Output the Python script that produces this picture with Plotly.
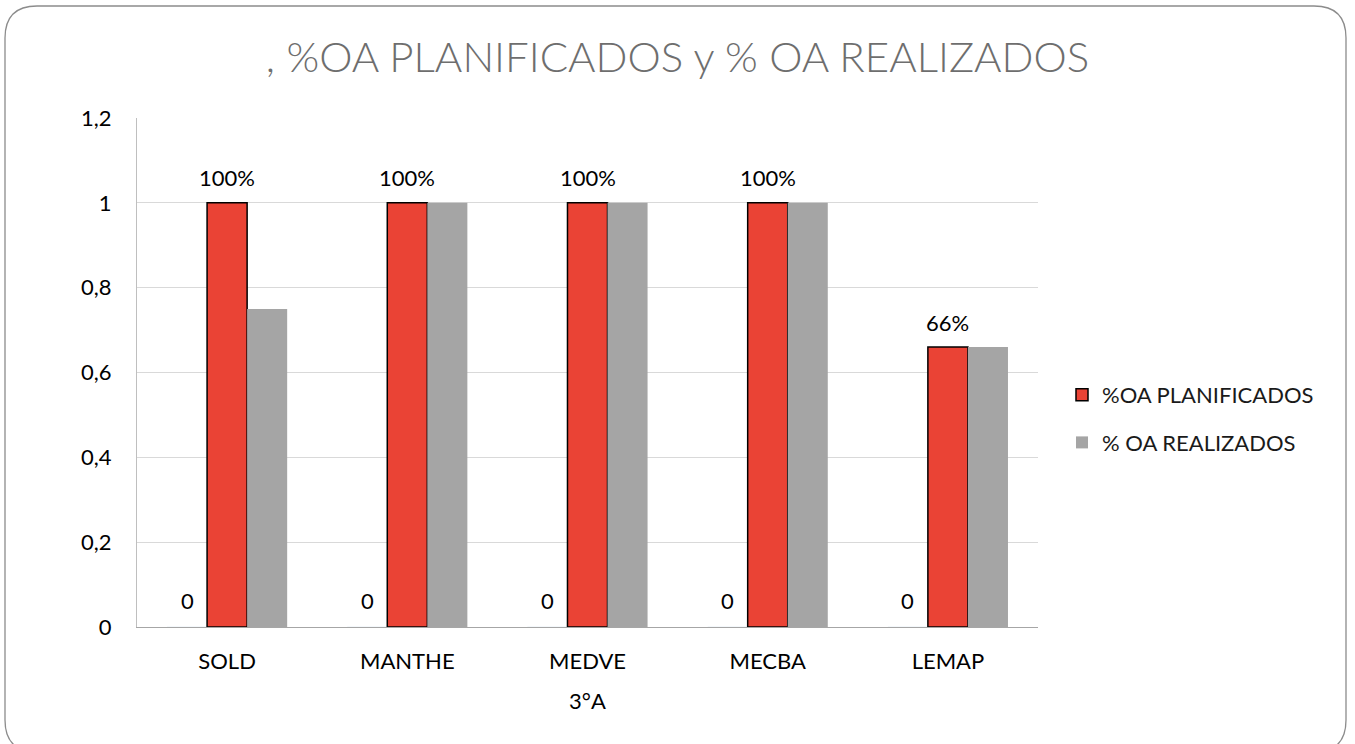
import plotly.graph_objects as go

categories = ["SOLD", "MANTHE", "MEDVE", "MECBA", "LEMAP"]
zero_series = [0, 0, 0, 0, 0]
planificados = [1, 1, 1, 1, 0.66]
realizados = [0.75, 1, 1, 1, 0.66]
y_ticks = [0, 0.2, 0.4, 0.6, 0.8, 1.0, 1.2]

FONT = "Lato, 'Open Sans', sans-serif"
W, H = 1355, 744
L, R, T, B = 137, 1038, 118, 627
BARGAP = 1 / 3
N_SERIES = 3

fig = go.Figure()
fig.add_trace(go.Bar(
    x=categories, y=zero_series, name="Serie 1", showlegend=False,
    marker=dict(color="rgba(0,0,0,0)"),
    hoverinfo="skip", legendgroup="g0",
))
fig.add_trace(go.Bar(
    x=categories, y=planificados, name="%OA PLANIFICADOS",
    marker=dict(color="#EA4335", line=dict(color="#000000", width=1.5)),
    legendgroup="g1",
))
fig.add_trace(go.Bar(
    x=categories, y=realizados, name="% OA REALIZADOS",
    marker=dict(color="#A5A5A5", line=dict(width=0)),
    legendgroup="g2",
))

# data labels, placed through the axes at each bar's value
bar_w = (R - L) / len(categories) * (1 - BARGAP) / N_SERIES
annotations = []
for cat, z in zip(categories, zero_series):
    annotations.append(dict(x=cat, y=z, xref="x", yref="y", text=f"{z}",
                            showarrow=False, xshift=-bar_w, yshift=27,
                            yanchor="middle",
                            font=dict(family=FONT, size=22, color="#000000")))
for cat, v in zip(categories, planificados):
    annotations.append(dict(x=cat, y=v, xref="x", yref="y",
                            text=f"{round(v * 100)}%",
                            showarrow=False, yshift=25, yanchor="middle",
                            font=dict(family=FONT, size=22, color="#000000")))


def px(x):
    return (x - L) / (R - L)


def py(y):
    return (B - y) / (B - T)


# rounded outer border
x0, x1, y0, y1, r = 5, 1346, 6, 752, 32
path = (
    f"M {px(x0 + r)},{py(y0)} L {px(x1 - r)},{py(y0)} "
    f"Q {px(x1)},{py(y0)} {px(x1)},{py(y0 + r)} "
    f"L {px(x1)},{py(y1 - r)} Q {px(x1)},{py(y1)} {px(x1 - r)},{py(y1)} "
    f"L {px(x0 + r)},{py(y1)} Q {px(x0)},{py(y1)} {px(x0)},{py(y1 - r)} "
    f"L {px(x0)},{py(y0 + r)} Q {px(x0)},{py(y0)} {px(x0 + r)},{py(y0)} Z"
)

fig.update_layout(
    width=W, height=H,
    margin=dict(l=L, r=W - R, t=T, b=H - B, pad=0),
    paper_bgcolor="white", plot_bgcolor="white",
    separators=", ",
    font=dict(family=FONT, size=22, color="#000000"),
    title=dict(text=", %OA PLANIFICADOS y % OA REALIZADOS",
               x=0.5, xref="container", xanchor="center",
               y=1 - 57 / H, yanchor="middle",
               font=dict(family=FONT, size=42, color="#6e6e6e", weight=300)),
    barmode="group", bargap=BARGAP, bargroupgap=0,
    legend=dict(x=px(1062), y=py(419), xanchor="left", yanchor="middle",
                font=dict(family=FONT, size=22, color="#1a1a1a"),
                traceorder="grouped", tracegroupgap=16,
                bgcolor="rgba(0,0,0,0)"),
    shapes=[dict(type="path", path=path, xref="paper", yref="paper",
                 line=dict(color="#8c8c8c", width=1.3), layer="below")],
    annotations=annotations,
    showlegend=True,
)
fig.update_xaxes(
    showline=True, linecolor="#a6a6a6", linewidth=1.3,
    showgrid=False, ticks="", ticklabelstandoff=14,
    tickfont=dict(family=FONT, size=22, color="#000000"),
    title=dict(text="3°A", standoff=21,
               font=dict(family=FONT, size=22, color="#000000")),
)
fig.update_yaxes(
    range=[0, 1.2], tickvals=y_ticks, tickformat=".1~f",
    showgrid=True, gridcolor="#d9d9d9", gridwidth=1.3,
    zeroline=False, showline=True, linecolor="#bfbfbf", linewidth=1.3,
    ticks="", ticklabelstandoff=20,
    tickfont=dict(family=FONT, size=22, color="#000000"),
)

fig.write_html("out.html", config={"displayModeBar": False},
               post_script="document.body.style.margin='0px';")
